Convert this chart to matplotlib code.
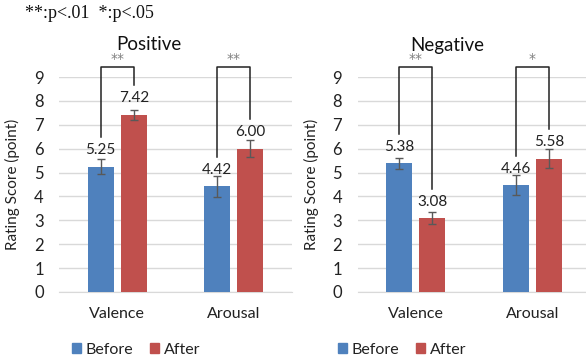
"""
Rating scores before/after, positive and negative conditions
"""
import matplotlib
matplotlib.use('Agg')
import matplotlib.pyplot as plt
from matplotlib.patches import Patch
import numpy as np

# Data
categories = ['Valence', 'Arousal']
panels = ['Positive', 'Negative']
before = {'Positive': [5.25, 4.42], 'Negative': [5.38, 4.46]}
after = {'Positive': [7.42, 6.00], 'Negative': [3.08, 5.58]}
before_err = {'Positive': [0.30, 0.43], 'Negative': [0.24, 0.42]}
after_err = {'Positive': [0.21, 0.36], 'Negative': [0.25, 0.40]}
stars = {'Positive': ['**', '**'], 'Negative': ['**', '*']}
yticks = list(range(0, 10))

BLUE = '#4F81BD'
RED = '#C0504D'
GRID = '#D9D9D9'
FONT = 'Lato'

plt.rcParams['font.family'] = [FONT, 'DejaVu Sans']

fig = plt.figure(figsize=(5.86, 3.62), dpi=100)

# axes placements in figure fractions (left, bottom, width, height)
axes_pos = {
    'Positive': [59 / 586, 70 / 362, 233 / 586, 215 / 362],
    'Negative': [357.5 / 586, 70 / 362, 233 / 586, 215 / 362],
}
title_x = {'Positive': 149 / 586, 'Negative': 447 / 586}
legend_x = {'Positive': 136 / 586, 'Negative': 402 / 586}

off = 0.142
width = 0.223
x = np.arange(len(categories))

for name in panels:
    ax = fig.add_axes(axes_pos[name])
    b = before[name]
    a = after[name]

    ax.bar(x - off, b, width, color=BLUE, zorder=3)
    ax.bar(x + off, a, width, color=RED, zorder=3)
    ax.errorbar(x - off, b, yerr=before_err[name], fmt='none', ecolor='#595959',
                elinewidth=1, capsize=3, capthick=1, zorder=4)
    ax.errorbar(x + off, a, yerr=after_err[name], fmt='none', ecolor='#595959',
                elinewidth=1, capsize=3, capthick=1, zorder=4)

    # value labels
    for xi, v in zip(x - off, b):
        ax.annotate(f'{v:.2f}', xy=(xi, v), xytext=(0, 7), textcoords='offset points',
                    ha='center', va='bottom', fontsize=11, color='#222222')
    for xi, v in zip(x + off, a):
        ax.annotate(f'{v:.2f}', xy=(xi, v), xytext=(0, 7), textcoords='offset points',
                    ha='center', va='bottom', fontsize=11, color='#222222')

    # significance brackets
    top = 9.43
    for i in range(len(categories)):
        x0, x1 = x[i] - off, x[i] + off
        ax.plot([x0, x0, x1, x1], [b[i] + 1.25, top, top, a[i] + 1.25],
                color='#222222', lw=1.1, clip_on=False, zorder=5)
        ax.text((x0 + x1) / 2, top + 0.02, stars[name][i], ha='center', va='bottom',
                fontsize=10, color='#808080', clip_on=False, family='DejaVu Sans')

    ax.set_xlim(-0.5, 1.5)
    ax.set_ylim(0, 9)
    ax.set_yticks(yticks)
    ax.set_xticks(x)
    ax.set_xticklabels(categories, fontsize=11.5, color='#222222')
    ax.tick_params(axis='y', length=0, pad=11, labelsize=12, labelcolor='#222222')
    ax.tick_params(axis='x', length=0, pad=11)
    ax.grid(axis='y', color=GRID, lw=1, zorder=0)
    for s in ['top', 'right', 'left']:
        ax.spines[s].set_visible(False)
    ax.spines['bottom'].set_color(GRID)
    ax.set_ylabel('Rating Score (point)', fontsize=11, color='#222222')
    ax.yaxis.set_label_coords(-0.167, 0.5)

    fig.text(title_x[name], 1 - 45 / 362, name, ha='center', va='center',
             fontsize=13.5, color='#111111')

    handles = [Patch(color=BLUE, label='Before'), Patch(color=RED, label='After')]
    fig.legend(handles=handles, loc='center', bbox_to_anchor=(legend_x[name], 1 - 350 / 362),
               ncol=2, frameon=False, fontsize=11.5, handlelength=0.6, handleheight=0.6,
               handletextpad=0.3, columnspacing=1.0, borderpad=0, labelcolor='#222222')

fig.text(25 / 586, 1 - 14 / 362, '**:p<.01  *:p<.05', ha='left', va='center',
         fontsize=13, family=['Liberation Serif', 'DejaVu Serif'], color='#111111')

plt.savefig('out.png', dpi=100)
plt.close()
